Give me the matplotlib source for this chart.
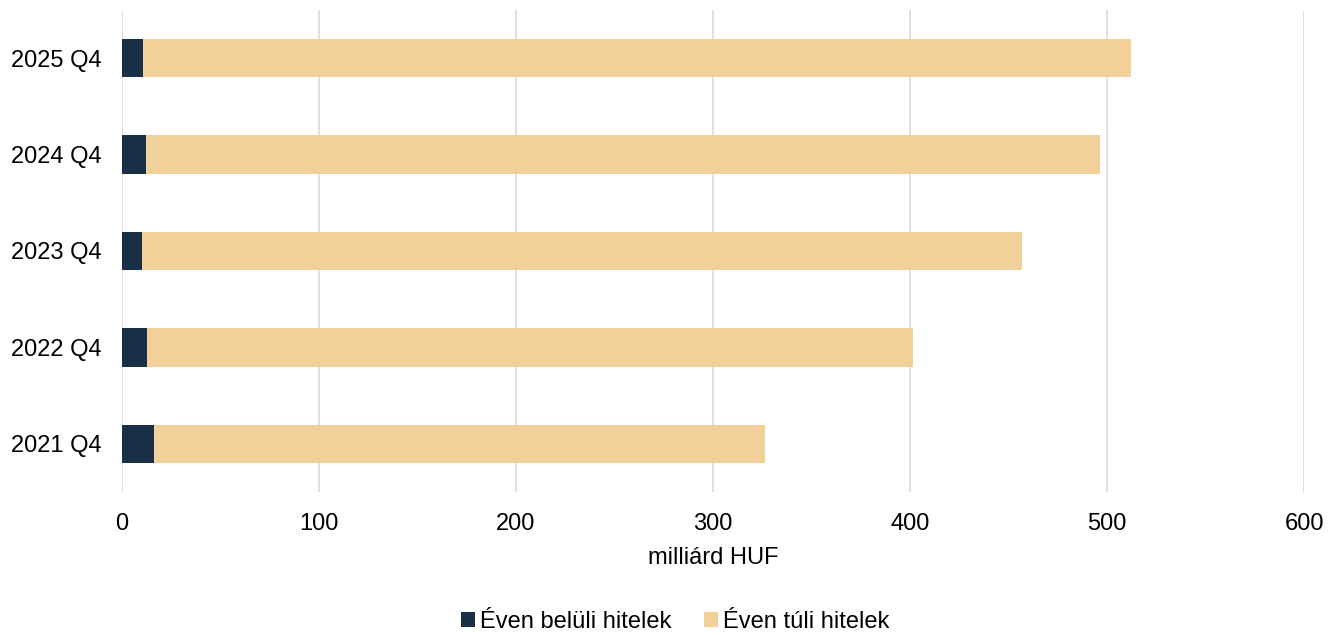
import matplotlib.pyplot as plt

# values in milliard HUF
periods = ["2021 Q4", "2022 Q4", "2023 Q4", "2024 Q4", "2025 Q4"]
within_year = [16.1, 12.5, 10.3, 12.4, 10.7]
over_year = [310.1, 388.9, 446.6, 484.0, 501.5]
x_ticks = [0, 100, 200, 300, 400, 500, 600]

dark = "#1a3047"
light = "#f1d199"

plt.rcParams['font.family'] = ['Liberation Sans', 'DejaVu Sans']

fig = plt.figure(figsize=(13.37, 6.35), dpi=100)
ax = fig.add_axes([122 / 1337, 1 - 492 / 635, (1304 - 122) / 1337, 482 / 635])

ax.barh(periods, within_year, height=0.4, color=dark, label="Éven belüli hitelek", zorder=3)
ax.barh(periods, over_year, left=within_year, height=0.4, color=light,
        label="Éven túli hitelek", zorder=3)

ax.set_xlim(0, 600)
ax.set_ylim(-0.5, 4.5)
ax.set_xticks(x_ticks)
ax.grid(axis="x", color="#d9d9d9", linewidth=1.2, zorder=0)
for s in ax.spines.values():
    s.set_visible(False)
ax.tick_params(axis="both", length=0, labelsize=17, colors="black")
ax.tick_params(axis="x", pad=15)
ax.tick_params(axis="y", pad=15)
ax.set_xlabel("milliárd HUF", fontsize=17, labelpad=9)

fig.legend(loc="center", bbox_to_anchor=(0.505, 1 - 622 / 635), ncol=2, frameon=False,
           fontsize=17, handlelength=0.6, handleheight=0.6, handletextpad=0.2,
           columnspacing=1.4)

fig.savefig("out.png", dpi=100)
